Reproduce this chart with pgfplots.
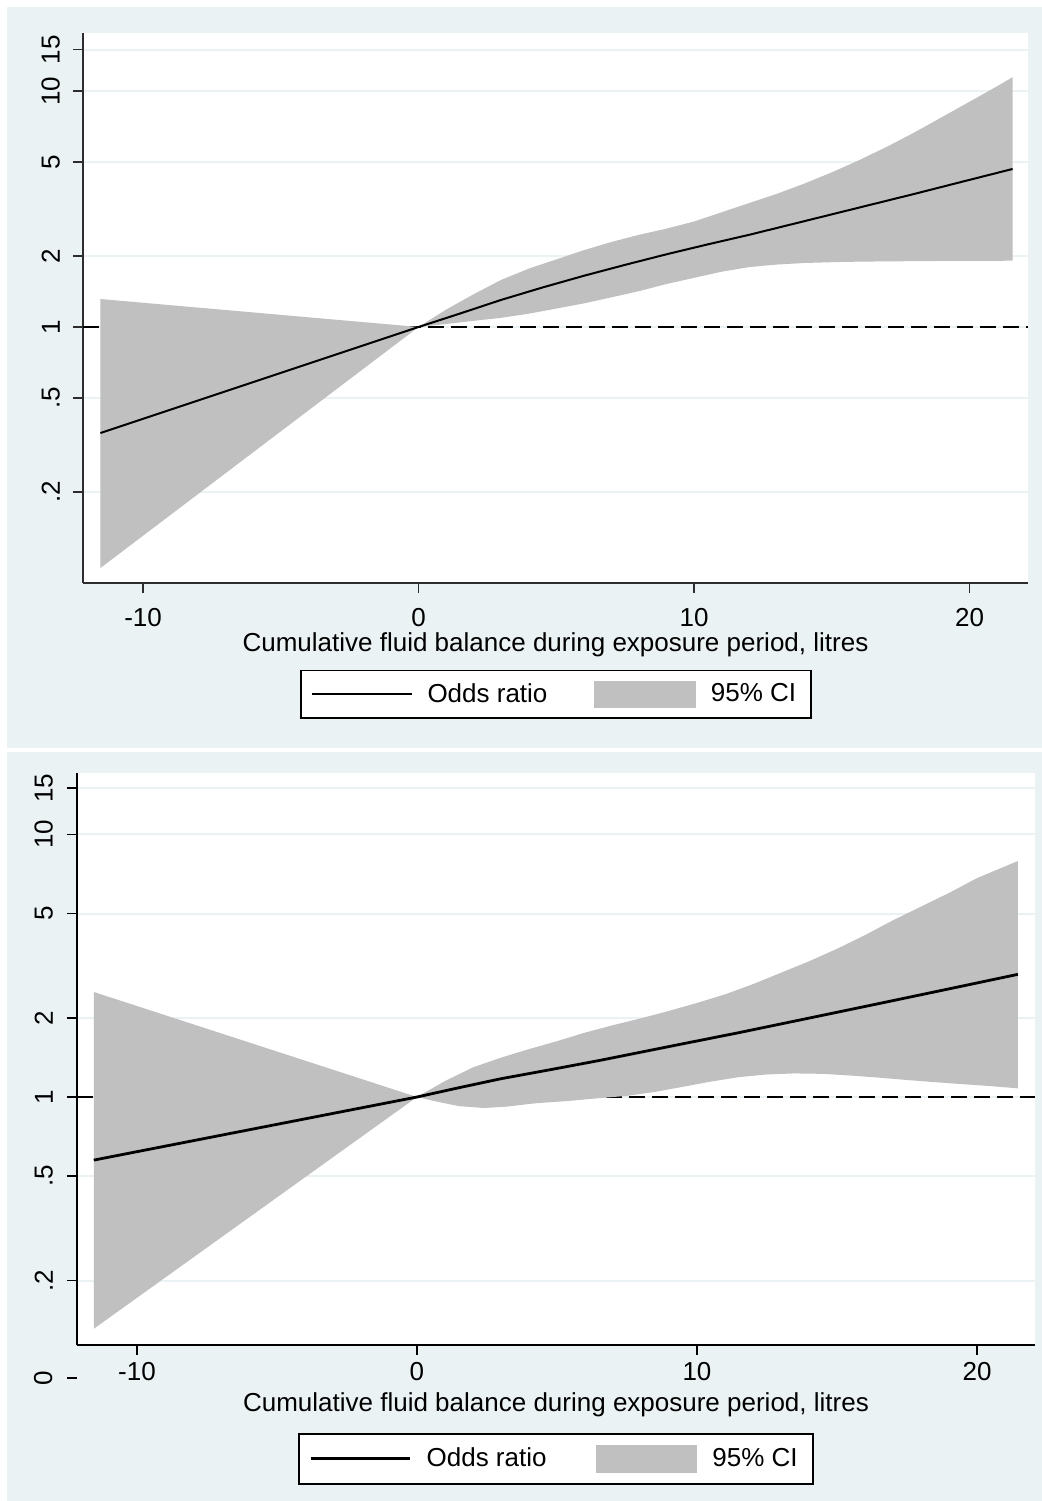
\documentclass[border=0pt]{standalone}
\usepackage{pgfplots}
\pgfplotsset{compat=1.18}
\usepackage{fontspec}
\setmainfont{Liberation Sans}
\definecolor{bgc}{RGB}{234,242,243}
\definecolor{cigray}{RGB}{192,192,192}
\definecolor{axc}{RGB}{45,45,45}
\newcommand{\fs}{\fontsize{13}{15}\selectfont}
\begin{document}
\begin{tikzpicture}
\fill[white] (0pt,0pt) rectangle (521pt,750.5pt);
\fill[bgc] (3.5pt,376.5pt) rectangle (521pt,747pt);
\fill[bgc] (3.5pt,0pt) rectangle (521pt,374.5pt);
% ---------------- panel 1
\begin{axis}[
  scale only axis, ymode=log,
  at={(41.5pt,459pt)}, anchor=south west,
  width=472.5pt, height=275pt,
  xmin=-12.18, xmax=22.12, ymin=0.0821, ymax=17.65,
  axis x line*=bottom, axis y line*=left,
  axis line style={-, axc, line width=0.9pt},
  axis background/.style={fill=white},
  ymajorgrids, major grid style={bgc, line width=1pt},
  tick align=outside, major tick length=5pt,
  tick style={axc, line width=0.7pt},
  minor tick num=0,
  xtick={-10,0,10,20}, xticklabels={-10,0,10,20},
  ytick={0.2,0.5,1,2,5,10,15}, yticklabels={.2,.5,1,2,5,10,15},
  xticklabel style={font=\fs, yshift=-4pt},
  yticklabel style={font=\fs, xshift=-3pt, rotate=90, anchor=south},
  xlabel={Cumulative fluid balance during exposure period, litres},
  xlabel style={font=\fs, at={(axis description cs:0.5,-0.089)}, anchor=north, inner sep=0pt},
  legend columns=2,
  legend style={at={(0.5005,-0.158)}, anchor=north, draw=black, fill=white, line width=0.7pt,
    font=\fs, inner xsep=0pt, inner ysep=5pt,
    nodes={inner xsep=7.5pt, inner ysep=0pt},
    /tikz/every even column/.append style={column sep=16pt}},
]
\addplot[black, line width=1.1pt, dash pattern=on 8pt off 3.5pt, forget plot] coordinates {(-12.18,1) (22.12,1)};
\addplot[fill=cigray, draw=none, forget plot] coordinates {
(-11.55,1.314) (0,1) (1,1.185) (2,1.377) (3,1.584) (4,1.768) (5,1.935) (6,2.117) (7,2.293) (8,2.460) (9,2.612) (10,2.801) (11,3.065) (12,3.353) (13,3.669) (14,4.055) (15,4.527) (16,5.104) (17,5.812) (18,6.686) (19,7.768) (20,9.025) (21,10.49) (21.56,11.47)
(21.56,1.910) (20,1.908) (19,1.906) (18,1.902) (17,1.898) (16,1.893) (15,1.883) (14,1.868) (13,1.840) (12,1.795) (11,1.716) (10,1.616) (9,1.522) (8,1.419) (7,1.336) (6,1.259) (5,1.197) (4,1.139) (3,1.094) (2,1.062) (1,1.030) (0,1) (-11.55,0.095)
};
\addplot[black, line width=1pt, forget plot] coordinates {
(-11.55,0.355) (0,1) (1.5,1.140) (3,1.303) (4.5,1.471) (6,1.649) (7.5,1.835) (9,2.034) (10.5,2.241) (12,2.460) (13.5,2.718) (15,3.004) (16.5,3.320) (18,3.669) (19.8,4.150) (21.56,4.679)
};
\addlegendimage{legend image code/.code={\path (0pt,0pt); \draw[black, line width=1pt] (5pt,0pt) -- (55pt,0pt);}}
\addlegendentry{Odds ratio}
\addlegendimage{legend image code/.code={\fill[cigray] (0pt,-6.5pt) rectangle (50pt,6.5pt);}}
\addlegendentry{95\% CI}
\end{axis}
% ---------------- panel 2
\begin{axis}[
  scale only axis, ymode=log,
  at={(38.5pt,78pt)}, anchor=south west,
  width=479pt, height=286pt,
  xmin=-12.14, xmax=22.07, ymin=0.1136, ymax=17.15,
  axis x line*=bottom, axis y line*=left,
  axis line style={-, black, line width=1.1pt},
  axis background/.style={fill=white},
  ymajorgrids, major grid style={bgc, line width=1pt},
  tick align=outside, major tick length=5pt,
  tick style={black, line width=0.9pt},
  minor tick num=0,
  xtick={-10,0,10,20}, xticklabels={-10,0,10,20},
  ytick={0.2,0.5,1,2,5,10,15}, yticklabels={.2,.5,1,2,5,10,15},
  xticklabel style={font=\fs},
  yticklabel style={font=\fs, xshift=-3.5pt, rotate=90, anchor=south},
  xlabel={Cumulative fluid balance during exposure period, litres},
  xlabel style={font=\fs, at={(axis description cs:0.5,-0.0822)}, anchor=north, inner sep=0pt},
  legend columns=2,
  legend style={at={(0.5,-0.154)}, anchor=north, draw=black, fill=white, line width=0.9pt,
    font=\fs, inner xsep=0pt, inner ysep=5.5pt,
    nodes={inner xsep=7.5pt, inner ysep=0pt},
    /tikz/every even column/.append style={column sep=17pt}},
  clip=false,
]
\addplot[black, line width=1.2pt, dash pattern=on 8pt off 3.5pt, forget plot] coordinates {(-12.14,1) (22.07,1)};
\addplot[fill=cigray, draw=none, forget plot] coordinates {
(-11.54,2.512) (0,1) (1,1.150) (2,1.297) (3,1.412) (4,1.522) (5,1.632) (6,1.759) (7,1.878) (8,1.994) (9,2.128) (10,2.282) (11,2.460) (12,2.691) (13,2.974) (14,3.287) (15,3.669) (16,4.137) (17,4.711) (18,5.312) (19,5.989) (20,6.821) (21.46,7.925)
(21.46,1.079) (20.5,1.100) (19.5,1.119) (18.5,1.139) (17.5,1.161) (16.5,1.185) (15.5,1.207) (14.5,1.225) (13.5,1.230) (12.5,1.219) (11.5,1.191) (10.5,1.145) (9.5,1.094) (8.5,1.046) (7.5,1.010) (6.5,0.990) (5.4,0.966) (4.2,0.946) (3.2,0.919) (2.4,0.908) (1.5,0.923) (0.7,0.961) (0,1) (-11.54,0.131)
};
\addplot[black, line width=1.4pt, forget plot] coordinates {
(-11.54,0.575) (0,1) (1.5,1.085) (3,1.174) (4.8,1.273) (6.5,1.377) (9,1.557) (11.5,1.759) (14,1.998) (16.5,2.270) (19,2.582) (21.46,2.933)
};
\addlegendimage{legend image code/.code={\path (0pt,0pt); \draw[black, line width=1.4pt] (5.5pt,0pt) -- (55pt,0pt);}}
\addlegendentry{Odds ratio}
\addlegendimage{legend image code/.code={\fill[cigray] (0pt,-6.5pt) rectangle (50pt,6.5pt);}}
\addlegendentry{95\% CI}
\draw[black, line width=0.9pt] (rel axis cs:0,-0.0577) -- ++(-5pt,0pt) node[xshift=-3.5pt, rotate=90, anchor=south, font=\fs] {0};
\end{axis}
\end{tikzpicture}
\end{document}
